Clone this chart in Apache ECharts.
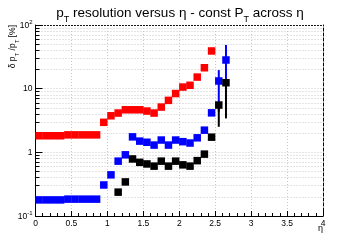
<!DOCTYPE html>
<html>
<head>
<meta charset="utf-8">
<title>pT resolution versus eta</title>
<script src="https://cdn.jsdelivr.net/npm/echarts@6/dist/echarts.min.js"></script>
<style>
	html, body { margin: 0; padding: 0; background: #fff; }
	#main { width: 360px; height: 240px; }
</style>
</head>
<body>
<div id="main"></div>
<script>
// eta bin centres
var etaBins = [0.05, 0.15, 0.25, 0.35, 0.45, 0.55, 0.65, 0.75, 0.85, 0.95,
	1.05, 1.15, 1.25, 1.35, 1.45, 1.55, 1.65, 1.75, 1.85, 1.95,
	2.05, 2.15, 2.25, 2.35, 2.45, 2.55, 2.65];
// resolution [%] per bin, null = no point
var redVals = [1.82, 1.82, 1.82, 1.82, 1.88, 1.88, 1.88, 1.88, 1.88, 2.96,
	3.75, 4.14, 4.66, 4.66, 4.66, 4.45, 4.14, 5.14, 6.55, 8.38,
	10.6, 11.3, 15.2, 21.3, 39.1, null, null];
var blueVals = [0.179, 0.179, 0.179, 0.179, 0.184, 0.184, 0.184, 0.184, 0.184, 0.307,
	0.443, 0.727, 0.914, 1.75, 1.5, 1.44, 1.3, 1.56, 1.3, 1.56,
	1.47, 1.4, 1.69, 2.23, 4.17, 13.2, 28.2];
var blackVals = [null, null, null, null, null, null, null, null, null, null,
	null, 0.237, 0.343, 0.787, 0.696, 0.657, 0.607, 0.727, 0.607, 0.727,
	0.636, 0.607, 0.74, 0.937, 1.73, 5.53, 12.4];
// error bars (only the last bins have visible ones)
var errEta = [2.55, 2.65];
var blueLo = [4.34, 11.5];
var blueHi = [19.6, 48.6];
var blackLo = [2.52, 3.41];
var blackHi = [6.1, 13.5];
// axis ticks
var xTicks = [0, 0.5, 1, 1.5, 2, 2.5, 3, 3.5, 4];
var yMajor = [0.1, 1, 10, 100];
var yMinor = [0.2, 0.3, 0.4, 0.5, 0.6, 0.7, 0.8, 0.9,
	2, 3, 4, 5, 6, 7, 8, 9,
	20, 30, 40, 50, 60, 70, 80, 90];

window.onload = function(){
	var myChart = echarts.init(document.getElementById('main'), null, {renderer: 'canvas'});
	var FONT = 'Liberation Sans';
	var gridLine = {show: true, lineStyle: {color: '#c8c8c8', width: 1, type: [1, 2]}};

	// pair up bin centres with values
	function toPoints(vals){
		var res = [];
		for (var i = 0; i < etaBins.length; i++) {
			if (vals[i] != null) res.push([etaBins[i], vals[i]]);
		}
		return res;
	}
	function toErr(lo, hi){
		var res = [];
		for (var i = 0; i < errEta.length; i++) res.push([errEta[i], lo[i], hi[i]]);
		return res;
	}
	function errSeries(data, color, z){
		return {
			type: 'custom',
			xAxisIndex: 0,
			yAxisIndex: 0,
			z: z,
			silent: true,
			data: data,
			renderItem: function(params, api){
				var p1 = api.coord([api.value(0), api.value(1)]);
				var p2 = api.coord([api.value(0), api.value(2)]);
				return {
					type: 'line',
					shape: {x1: p1[0], y1: p1[1], x2: p2[0], y2: p2[1]},
					style: {stroke: color, lineWidth: 2}
				};
			}
		};
	}
	function pointSeries(vals, color, z){
		return {
			type: 'scatter',
			xAxisIndex: 0,
			yAxisIndex: 0,
			z: z,
			symbol: 'rect',
			symbolSize: 7.5,
			silent: true,
			itemStyle: {color: color, opacity: 1},
			data: toPoints(vals)
		};
	}

	var sup = {fontSize: 6, fontFamily: FONT, color: '#000', verticalAlign: 'bottom', padding: [0, 0, 5, 0]};
	var base = {fontSize: 8.5, fontFamily: FONT, color: '#000', verticalAlign: 'bottom'};

	var option = {
		backgroundColor: '#fff',
		animation: false,
		title: {
			left: 'center',
			top: 1,
			text: '{m|p}{s|T}{m| resolution versus η - const P}{s|T}{m| across η}',
			textStyle: {
				fontWeight: 'normal',
				rich: {
					m: {fontSize: 13.5, fontWeight: 'normal', fontFamily: FONT, color: '#000', verticalAlign: 'bottom', padding: [0, 0, 4, 0]},
					s: {fontSize: 9, fontWeight: 'normal', fontFamily: FONT, color: '#000', verticalAlign: 'bottom'}
				}
			}
		},
		grid: {left: 35.5, right: 37, top: 25, bottom: 24, containLabel: false},
		xAxis: [{
			type: 'value',
			position: 'bottom',
			min: 0,
			max: 4,
			interval: 0.5,
			axisLine: {show: true, onZero: false, lineStyle: {color: '#000', width: 1}},
			axisTick: {show: true, inside: true, length: 5, lineStyle: {color: '#000'}},
			minorTick: {show: true, splitNumber: 5, length: 3, lineStyle: {color: '#000'}},
			axisLabel: {
				margin: 3,
				fontSize: 8.5,
				fontFamily: FONT,
				color: '#000',
				customValues: xTicks,
				formatter: function(v){ return String(v); }
			},
			splitLine: gridLine
		}, {
			type: 'value',
			position: 'top',
			min: 0,
			max: 4,
			axisLine: {show: true, onZero: false, lineStyle: {color: '#000', width: 1, type: [1, 2]}},
			axisTick: {show: false},
			axisLabel: {show: false},
			splitLine: {show: false}
		}],
		yAxis: [{
			type: 'log',
			logBase: 10,
			position: 'left',
			min: 0.1,
			max: 100,
			axisLine: {show: true, onZero: false, lineStyle: {color: '#000', width: 1}},
			axisTick: {show: true, inside: true, length: 7, customValues: yMajor, lineStyle: {color: '#000'}},
			axisLabel: {
				margin: 3,
				customValues: yMajor,
				formatter: function(v){
					var e = Math.round(Math.log(v) / Math.LN10);
					if (e == 0) return '{b|1}';
					if (e == 1) return '{b|10}';
					return '{b|10}{p|' + e + '}';
				},
				rich: {b: base, p: sup}
			},
			splitLine: gridLine
		}, {
			// minor decade ticks 2..9
			type: 'log',
			logBase: 10,
			position: 'left',
			min: 0.1,
			max: 100,
			axisLine: {show: false},
			axisTick: {show: true, inside: true, length: 4, customValues: yMinor, lineStyle: {color: '#000'}},
			axisLabel: {show: false},
			splitLine: gridLine
		}, {
			type: 'log',
			logBase: 10,
			position: 'right',
			min: 0.1,
			max: 100,
			axisLine: {show: true, onZero: false, lineStyle: {color: '#000', width: 1, type: [3, 2]}},
			axisTick: {show: false},
			axisLabel: {show: false},
			splitLine: {show: false}
		}],
		graphic: [{
			type: 'text',
			x: 14.5,
			y: 25,
			rotation: Math.PI / 2,
			style: {
				text: '{m|δ p}{s|T}{m| /p}{s|T}{m| [%]}',
				align: 'right',
				verticalAlign: 'middle',
				rich: {
					m: {fontSize: 8.5, fontFamily: FONT, fill: '#000', verticalAlign: 'bottom', padding: [0, 0, 3, 0]},
					s: {fontSize: 6, fontFamily: FONT, fill: '#000', verticalAlign: 'bottom'}
				}
			}
		}, {
			type: 'text',
			x: 323,
			y: 229,
			style: {text: 'η', fontSize: 9, fontFamily: FONT, fill: '#000', align: 'right', verticalAlign: 'middle'}
		}],
		series: [
			pointSeries(redVals, '#ff0000', 2),
			errSeries(toErr(blueLo, blueHi), '#0000ff', 3),
			pointSeries(blueVals, '#0000ff', 4),
			errSeries(toErr(blackLo, blackHi), '#000000', 5),
			pointSeries(blackVals, '#000000', 6)
		]
	};
	myChart.setOption(option);
};
</script>
</body>
</html>
